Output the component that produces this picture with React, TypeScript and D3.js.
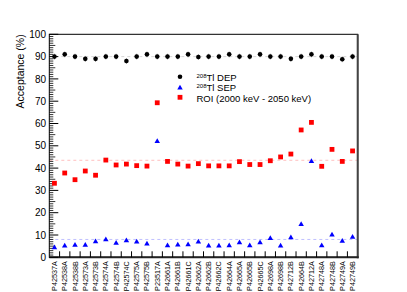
import React from 'react';
import * as d3 from 'd3';

// Detector labels along the x axis
const detectors = [
  'P42537A', 'P42538A', 'P42538B', 'P42573A', 'P42573B', 'P42574A', 'P42574B', 'P42574C',
  'P42575A', 'P42575B', 'P23517A', 'P42661A', 'P42661B', 'P42661C', 'P42662A', 'P42662B',
  'P42662C', 'P42664A', 'P42665A', 'P42665B', 'P42665C', 'P42698A', 'P42698B', 'P42712B',
  'P42664B', 'P42712A', 'P42748A', 'P42748B', 'P42749A', 'P42749B',
];

// Acceptances (%)
const depValues = [
  90, 91, 90, 89, 89, 90, 90, 88, 90, 91, 90, 90, 90, 91, 89.8,
  90, 90, 91, 90, 90, 91, 90, 90, 89, 90, 91, 90, 90, 88.8, 90,
];
const sepValues = [
  4.3, 5.1, 5.4, 5.4, 7.0, 7.9, 6.3, 7.5, 6.9, 6.0, 52, 5.2, 5.5, 5.7, 6.9,
  5.1, 5.1, 5.2, 6.6, 5.2, 6.6, 8.5, 5.1, 8.8, 14.8, 43.0, 5.2, 10.0, 7.2, 9.0,
];
const roiValues = [
  33.2, 37.8, 34.8, 38.7, 36.8, 43.6, 41.4, 41.8, 41.1, 40.9, 69.3, 43.0, 41.8, 40.9, 42.0,
  41.0, 41.0, 41.0, 42.9, 41.6, 41.6, 43.3, 45.0, 46.3, 57.1, 60.5, 40.8, 48.4, 43.0, 47.7,
];
// dashed reference lines (means)
const depMean = 90;
const sepMean = 8;
const roiMean = 43.5;

const yTicks = d3.range(0, 101, 10);

export default function App() {
  const W = 407;
  const H = 292;
  const left = 49.3, right = 357.7, top = 34.3, bottom = 257.3;

  const x = d3.scaleBand<string>().domain(detectors).range([left, right]).padding(0);
  const y = d3.scaleLinear().domain([0, 100]).range([bottom, top]);
  const cx = (i: number) => (x(detectors[i]) as number) + x.bandwidth() / 2;

  const minor = d3.range(0, 101, 1).filter((v) => v % 10 !== 0);
  const font = 'Liberation Sans, Arial, Helvetica, sans-serif';
  const tri = d3.symbol().type(d3.symbolTriangle).size(13)();

  return (
    <svg width={W} height={H} style={{ position: 'absolute', left: 0, top: 0, background: '#fff' }} fontFamily={font}>
      {/* dashed reference lines */}
      <line x1={left} x2={right} y1={y(depMean)} y2={y(depMean)} stroke="#cccccc" strokeDasharray="3,3" strokeWidth={0.8} />
      <line x1={left} x2={right} y1={y(roiMean)} y2={y(roiMean)} stroke="#ffb0b0" strokeDasharray="3,3" strokeWidth={0.8} />
      <line x1={left} x2={right} y1={y(sepMean)} y2={y(sepMean)} stroke="#b0b0ff" strokeDasharray="3,3" strokeWidth={0.8} />

      {/* frame */}
      <rect x={left} y={top} width={right - left} height={bottom - top} fill="none" stroke="#000" strokeWidth={1} />
      <line x1={right} x2={right} y1={top} y2={bottom + 1} stroke="#444" strokeWidth={2} />
      <line x1={left} x2={right + 1} y1={bottom} y2={bottom} stroke="#222" strokeWidth={2} />

      {/* y ticks */}
      {yTicks.map((t) => (
        <g key={'yt' + t}>
          <line x1={left} x2={left + 9} y1={y(t)} y2={y(t)} stroke="#000" strokeWidth={1} />
          <text x={46} y={y(t) + 3.6} fontSize={10} textAnchor="end" fill="#000">{t}</text>
        </g>
      ))}
      {minor.map((t) => (
        <line key={'ym' + t} x1={left} x2={left + (t % 5 === 0 ? 6 : 4)} y1={y(t)} y2={y(t)} stroke="#000" strokeWidth={0.8} />
      ))}
      <text transform={`translate(24,${top}) rotate(-90)`} fontSize={10.5} textAnchor="end" fill="#000">Acceptance (%)</text>

      {/* x ticks at bin edges and labels */}
      {detectors.map((d, i) => (
        <g key={'xt' + d}>
          {i > 0 && <line x1={x(d)} x2={x(d)} y1={bottom} y2={bottom - 6} stroke="#000" strokeWidth={1} />}
          <text transform={`translate(${cx(i) + 2.5},${bottom + 4}) rotate(-90)`} fontSize={7.2} textAnchor="end" fill="#000">{d}</text>
        </g>
      ))}

      {/* DEP points with small error bars */}
      {depValues.map((v, i) => (
        <g key={'dep' + i}>
          <line x1={cx(i)} x2={cx(i)} y1={y(v + 1.3)} y2={y(v - 1.3)} stroke="#888" strokeWidth={0.8} />
          <circle cx={cx(i)} cy={y(v)} r={2.3} fill="#000" />
        </g>
      ))}
      {/* ROI points */}
      {roiValues.map((v, i) => (
        <rect key={'roi' + i} x={cx(i) - 2.4} y={y(v) - 2.4} width={4.8} height={4.8} fill="#ff0000" />
      ))}
      {/* SEP points */}
      {sepValues.map((v, i) => (
        <path key={'sep' + i} d={tri as string} transform={`translate(${cx(i)},${y(v)})`} fill="#0000ff" />
      ))}

      {/* legend */}
      <g fontSize={9.5} fill="#000">
        <circle cx={180} cy={76.7} r={2.3} fill="#000" />
        <text x={196.5} y={81}>
          <tspan fontSize={6} dy={-3.5}>208</tspan>
          <tspan dy={3.5}>Tl DEP</tspan>
        </text>
        <path d={tri as string} transform="translate(180,88)" fill="#0000ff" />
        <text x={196.5} y={90.5}>
          <tspan fontSize={6} dy={-3}>208</tspan>
          <tspan dy={3}>Tl SEP</tspan>
        </text>
        <rect x={177.6} y={94.9} width={4.8} height={4.8} fill="#ff0000" />
        <text x={196.5} y={101.5}>ROI (2000 keV - 2050 keV)</text>
      </g>
    </svg>
  );
}
